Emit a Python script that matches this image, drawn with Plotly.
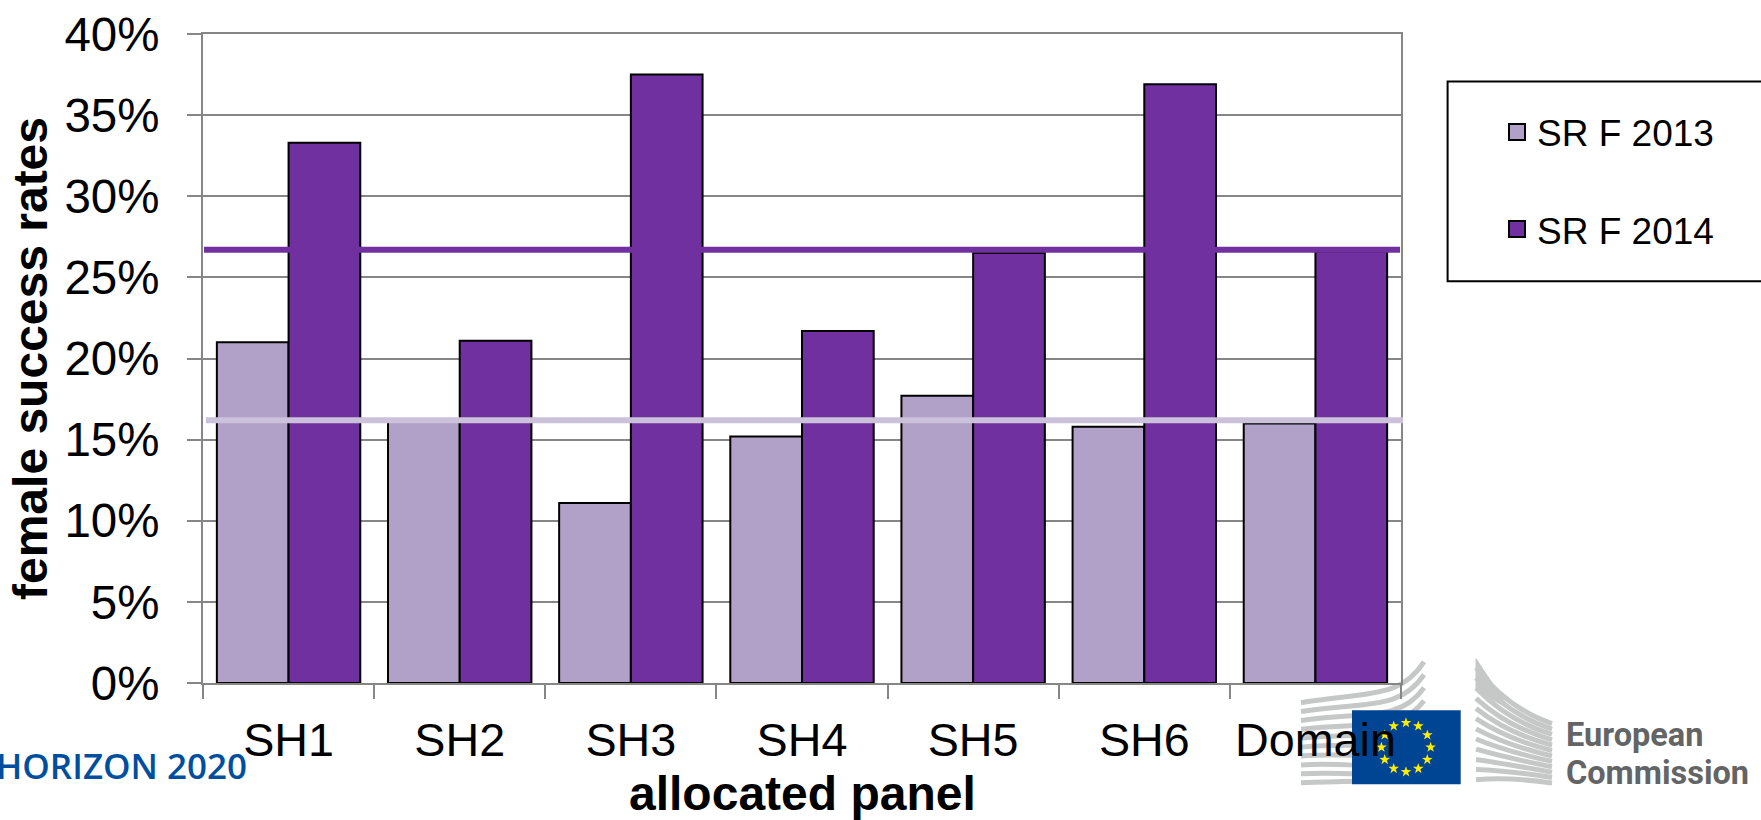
import math
import plotly.graph_objects as go

categories = ["SH1", "SH2", "SH3", "SH4", "SH5", "SH6", "Domain"]
sr_f_2013 = [21.0, 16.2, 11.1, 15.2, 17.7, 15.8, 16.0]
sr_f_2014 = [33.3, 21.1, 37.5, 21.7, 26.5, 36.9, 26.6]
avg_2013 = 16.2
avg_2014 = 26.7
y_ticks = [0, 5, 10, 15, 20, 25, 30, 35, 40]
y_tick_labels = ["0%", "5%", "10%", "15%", "20%", "25%", "30%", "35%", "40%"]

W, H = 1761, 820
L, R, T, B = 203, 1401, 33.5, 683.3
LIGHT, PURPLE, AVG_LIGHT = "#B1A0C7", "#7030A0", "#CCC1DA"
GRID = "#868686"
FONT = "Liberation Sans"


def px(x):
    return (x - L) / (R - L)


def py(y):
    return (B - y) / (B - T)


def P(x, y):
    return f"{px(x):.5f},{py(y):.5f}"


def path_shape(path, **kw):
    return dict(type="path", path=path, xref="paper", yref="paper", layer="below", **kw)


def rect_px(x0, y0, x1, y1, **kw):
    return dict(type="rect", xref="paper", yref="paper", layer="below",
                x0=px(x0), x1=px(x1), y0=py(y0), y1=py(y1), **kw)


shapes = []

# legend frame (runs off the page on the right, as in the reference)
shapes.append(rect_px(1447.6, 81, 1800, 281, line=dict(color="black", width=2), fillcolor="white"))

# Commission logo: left wing stripes
STRIPE = "#C6C8C8"
for i in range(10):
    y0 = 703 + i * 8.9
    y1 = 662 + i * 13
    c2 = min(y1 + 38 - i * 2, 782)
    d = f"M{P(1301, y0)} C{P(1365, y0 - 11 + i)} {P(1400, c2)} {P(1424, y1)}"
    shapes.append(path_shape(d, line=dict(color=STRIPE, width=5)))
# Commission logo: right wing stripes
shapes.append(path_shape(f"M{P(1476, 659)} L{P(1510, 710)} L{P(1476, 690)} Z",
                         line=dict(color=STRIPE, width=1), fillcolor=STRIPE))
for i in range(12):
    yl = 668 + i * 10.2
    yr = 724 + i * 5.4
    d = f"M{P(1476, yl)} Q{P(1508, 709 + i * 6.2)} {P(1552, yr)}"
    shapes.append(path_shape(d, line=dict(color=STRIPE, width=5)))
# EU flag and stars
shapes.append(rect_px(1352, 710.7, 1460.7, 784.7, line=dict(width=0), fillcolor="#004494"))
stars = ""
for k in range(12):
    a = math.radians(30 * k)
    cx, cy = 1406 + 24.6 * math.sin(a), 747.7 - 24.6 * math.cos(a)
    pts = []
    for j in range(10):
        r = 5.6 if j % 2 == 0 else 2.2
        b = math.radians(36 * j)
        pts.append(P(cx + r * math.sin(b), cy - r * math.cos(b)))
    stars += "M" + " L".join(pts) + " Z "
shapes.append(path_shape(stars, line=dict(width=0), fillcolor="#FFED00"))

# average lines above the bars
shapes.append(dict(type="line", xref="paper", yref="y", layer="above", x0=px(204), x1=px(1400),
                   y0=avg_2014, y1=avg_2014, line=dict(color=PURPLE, width=6)))
shapes.append(dict(type="line", xref="paper", yref="y", layer="above", x0=px(206), x1=px(1403),
                   y0=avg_2013, y1=avg_2013, line=dict(color=AVG_LIGHT, width=6)))

fig = go.Figure()
for name, vals, col in (("SR F 2013", sr_f_2013, LIGHT), ("SR F 2014", sr_f_2014, PURPLE)):
    fig.add_trace(go.Bar(x=categories, y=vals, name=name, showlegend=False,
                         marker=dict(color=col, line=dict(color="black", width=2))))
# legend entries with the larger square swatch of the reference
for name, col in (("SR F 2013", LIGHT), ("SR F 2014", PURPLE)):
    fig.add_trace(go.Scatter(x=[None], y=[None], mode="markers", name=name, legendgroup=name,
                             marker=dict(symbol="square", size=16, color=col,
                                         line=dict(color="black", width=2))))


def note(text, x, y, size, color, family, weight, anchor="left"):
    return dict(text=text, xref="paper", yref="paper", x=px(x), y=py(y), xanchor=anchor,
                yanchor="middle", showarrow=False, align="left",
                font=dict(family=family, size=size, color=color, weight=weight))


annotations = [
    note("HORIZON 2020", 249, 766, 35, "#004F9F", "Open Sans", 600, "right"),
    note("European", 1564, 735, 32.5, "#636466", "Roboto", 700),
    note("Commission", 1564, 773, 32.5, "#636466", "Roboto", 700),
    note("allocated panel", 802, 794, 48, "black", FONT, 700, "center"),
]

fig.update_layout(
    width=W, height=H, autosize=False,
    margin=dict(l=L, r=W - R, t=T, b=H - B, pad=0, autoexpand=False),
    paper_bgcolor="white", plot_bgcolor="white",
    font=dict(family=FONT, color="black"),
    barmode="group", bargap=0.162, bargroupgap=0,
    shapes=shapes, annotations=annotations,
    showlegend=True,
    legend=dict(x=px(1497), y=py(101), xanchor="left", yanchor="top", borderwidth=0,
                bgcolor="rgba(0,0,0,0)", font=dict(family=FONT, size=37, color="black"),
                tracegroupgap=46, itemclick=False, itemdoubleclick=False),
    xaxis=dict(type="category", categoryorder="array", categoryarray=categories,
               tickson="boundaries", ticks="outside", ticklen=14, tickwidth=2, tickcolor=GRID,
               showline=True, linecolor=GRID, linewidth=2, mirror=True, showgrid=False,
               tickfont=dict(family=FONT, size=46.7), ticklabelstandoff=15),
    yaxis=dict(range=[0, 40], tickvals=y_ticks, ticktext=y_tick_labels, ticks="outside",
               ticklen=14, tickwidth=2, tickcolor=GRID, showline=True, linecolor=GRID,
               linewidth=2, mirror=True, showgrid=True, gridcolor=GRID, gridwidth=2,
               zeroline=False, tickfont=dict(family=FONT, size=47.5), ticklabelstandoff=18,
               title=dict(text="female success rates", standoff=2,
                          font=dict(family=FONT, size=48, weight=700))),
)

fig.write_html("out.html", config={"displayModeBar": False},
               post_script="document.body.style.margin='0';document.body.style.overflow='hidden';")
